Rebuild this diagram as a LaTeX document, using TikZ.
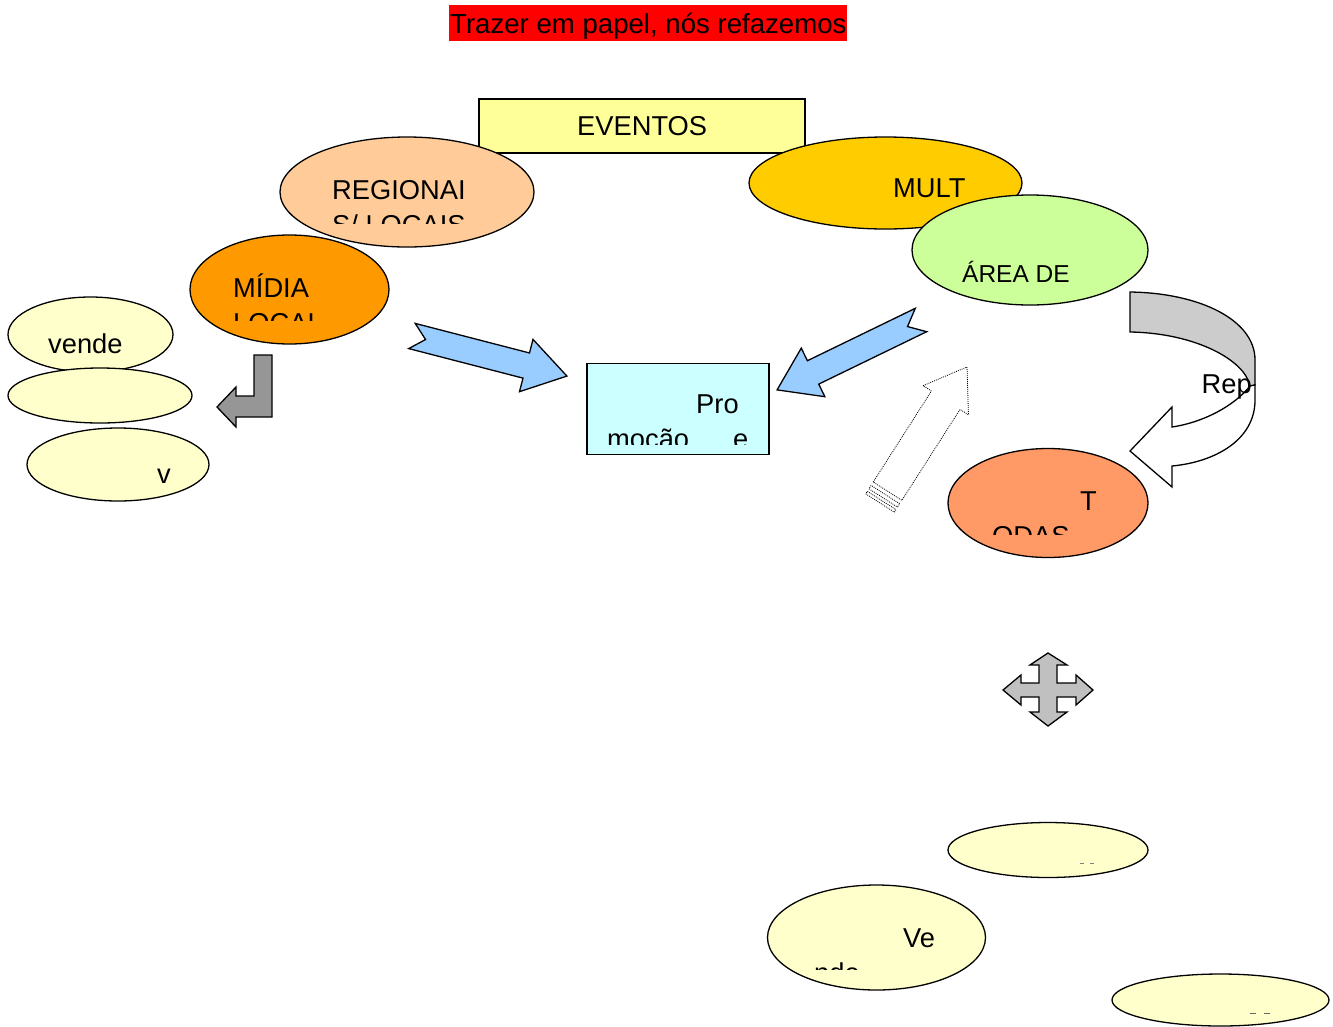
\documentclass[tikz,border=0pt]{standalone}
\usepackage{fontspec}
\setmainfont{Liberation Sans}
\definecolor{eventosfill}{HTML}{FFFF99}
\definecolor{regfill}{HTML}{FFCC99}
\definecolor{midiafill}{HTML}{FF9900}
\definecolor{multfill}{HTML}{FFCC00}
\definecolor{areafill}{HTML}{CCFF99}
\definecolor{palefill}{HTML}{FFFFCC}
\definecolor{promofill}{HTML}{CCFFFF}
\definecolor{todasfill}{HTML}{FF9966}
\definecolor{arrowblue}{HTML}{99CCFF}
\definecolor{bentgray}{HTML}{969696}
\definecolor{curvegray}{HTML}{CCCCCC}
\definecolor{quadgray}{HTML}{C0C0C0}
\begin{document}
\begin{tikzpicture}[x=1pt,y=-1pt,
  outline/.style={draw=black,line width=1.3pt},
  lbl/.style={anchor=base west,inner sep=0pt,font=\fontsize{27.3}{35}\selectfont},
  headlbl/.style={anchor=base west,inner sep=0pt,font=\fontsize{27.6}{35}\selectfont},
  smalllbl/.style={anchor=base west,inner sep=0pt,font=\fontsize{24.5}{30}\selectfont},
  blockarrow/.style={draw=black,line width=1.3pt,line join=miter},
  ghostarrow/.style={draw=black,line width=0.8pt,dash pattern=on 0.9pt off 1.1pt},
]
\useasboundingbox (0,0) rectangle (1333,1026);
\fill[white] (0,0) rectangle (1333,1026);

% heading on red band
\fill[red] (449,5) rectangle (847,40.5);
\node[headlbl] (header) at (450,33.3) {Trazer em papel, nós refazemos};

% EVENTOS box
\draw[outline,fill=eventosfill] (479,99) rectangle (805,153);
\node[lbl] (eventos) at (577,135) {EVENTOS};

% REGIONAIS / LOCAIS
\draw[outline,fill=regfill] (407,192) ellipse [x radius=127pt,y radius=55pt];
\node[lbl] (regA) at (332,199) {REGIONAI};
\begin{scope}
  \clip (280,201) rectangle (534,223);
  \node[lbl] (regB) at (332,234) {S/ LOCAIS};
\end{scope}

% MIDIA LOCAL
\draw[outline,fill=midiafill] (289.5,289.5) ellipse [x radius=99.5pt,y radius=54.5pt];
\node[lbl] (midA) at (233,297) {MÍDIA};
\begin{scope}
  \clip (190,299) rectangle (389,320);
  \node[lbl] (midB) at (233,332) {LOCAL};
\end{scope}

% MULT
\draw[outline,fill=multfill] (885.5,183) ellipse [x radius=136.5pt,y radius=46pt];
\node[lbl] (mult) at (893,197) {MULT};

% AREA DE
\draw[outline,fill=areafill] (1030,250) ellipse [x radius=118pt,y radius=55pt];
\node[smalllbl] (area) at (962,282) {ÁREA DE};

% left stack of pale ovals
\draw[outline,fill=palefill] (90.5,334.5) ellipse [x radius=82.5pt,y radius=37.5pt];
\node[lbl] (vende) at (48,353) {vende};
\draw[outline,fill=palefill] (100,395.5) ellipse [x radius=92pt,y radius=27.5pt];
\draw[outline,fill=palefill] (118,464.5) ellipse [x radius=91pt,y radius=36.5pt];
\node[lbl] (vsmall) at (157,483) {v};

% bent arrow pointing left
\draw[blockarrow,fill=bentgray] (254,355) -- (272,355) -- (272,417) -- (236,417)
  -- (236,427) -- (217,407) -- (236,387) -- (236,396) -- (254,396) -- cycle;

% block arrows towards the promotion box
\begin{scope}[shift={(412,336)},rotate=-14.5]
  \draw[blockarrow,fill=arrowblue] (0,-13) -- (118,-13) -- (118,-27) -- (160,0)
    -- (118,27) -- (118,13) -- (0,13) -- (14,0) -- cycle;
\end{scope}
\begin{scope}[shift={(921,320)},rotate=-154.1]
  \draw[blockarrow,fill=arrowblue] (0,-13) -- (120,-13) -- (120,-27) -- (160,0)
    -- (120,27) -- (120,13) -- (0,13) -- (15,0) -- cycle;
\end{scope}

% promotion box
\draw[outline,fill=promofill] (587,363.5) rectangle (769,454.5);
\node[lbl] (proA) at (696,413) {Pro};
\begin{scope}
  \clip (588,415) rectangle (768,444);
  \node[lbl] (proB) at (607,448) {moção};
  \node[lbl] (proC) at (733,448) {e};
\end{scope}

% dotted striped arrow
\begin{scope}[shift={(880,503)},rotate=57.4]
  \draw[ghostarrow] (0,-17) rectangle (3,17);
  \draw[ghostarrow] (6,-17) rectangle (10,17);
  \draw[ghostarrow] (14,-17) -- (122,-17) -- (122,-27) -- (161.5,0)
    -- (122,27) -- (122,17) -- (14,17) -- cycle;
\end{scope}

% curved U-turn arrow
\draw[blockarrow,fill=curvegray] (1130,292) .. controls (1200,293) and (1255,320) .. (1255,360)
  -- (1255,385) -- (1250,386) .. controls (1245,360) and (1195,333) .. (1130,332) -- cycle;
\draw[blockarrow,fill=white] (1250,386) -- (1255,385) -- (1255,400)
  .. controls (1255,440) and (1215,462) .. (1172,466) -- (1172,487) -- (1130,451)
  -- (1172,407) -- (1172,427) .. controls (1205,422) and (1235,405) .. (1250,386) -- cycle;
\begin{scope}
  \clip (1190,360) rectangle (1253,410);
  \node[lbl] (rep) at (1201.5,393) {Rep};
\end{scope}

% TODAS
\draw[outline,fill=todasfill] (1048,503) ellipse [x radius=100pt,y radius=54.5pt];
\node[lbl] (todA) at (1080,510) {T};
\begin{scope}
  \clip (950,512) rectangle (1146,534);
  \node[lbl] (todB) at (992,545) {ODAS};
\end{scope}

% four-way arrow
\draw[blockarrow,fill=quadgray] (1048,653) -- (1067,665) -- (1057,665) -- (1057,683)
  -- (1076,683) -- (1076,675) -- (1093,690) -- (1076,705) -- (1076,697) -- (1057,697)
  -- (1057,712) -- (1067,712) -- (1048,726) -- (1030,712) -- (1039,712) -- (1039,697)
  -- (1021,697) -- (1021,705) -- (1003,690) -- (1021,675) -- (1021,683) -- (1039,683)
  -- (1039,665) -- (1030,665) -- cycle;

% lower pale ovals
\draw[outline,fill=palefill] (1048,850) ellipse [x radius=100pt,y radius=27.5pt];
\draw[black!50,line width=0.5pt] (1080,863) -- (1084,863) (1090,863) -- (1094,863);
\draw[outline,fill=palefill] (876.5,937.5) ellipse [x radius=109pt,y radius=52.5pt];
\node[lbl] (veA) at (903,947) {Ve};
\begin{scope}
  \clip (770,950) rectangle (984,969);
  \node[lbl] (veB) at (814,982) {nde};
\end{scope}
\draw[outline,fill=palefill] (1220.5,1000) ellipse [x radius=108.5pt,y radius=26pt];
\draw[black!60,line width=0.5pt] (1250,1013) -- (1256,1013) (1264,1013) -- (1270,1013);
\end{tikzpicture}
\end{document}
